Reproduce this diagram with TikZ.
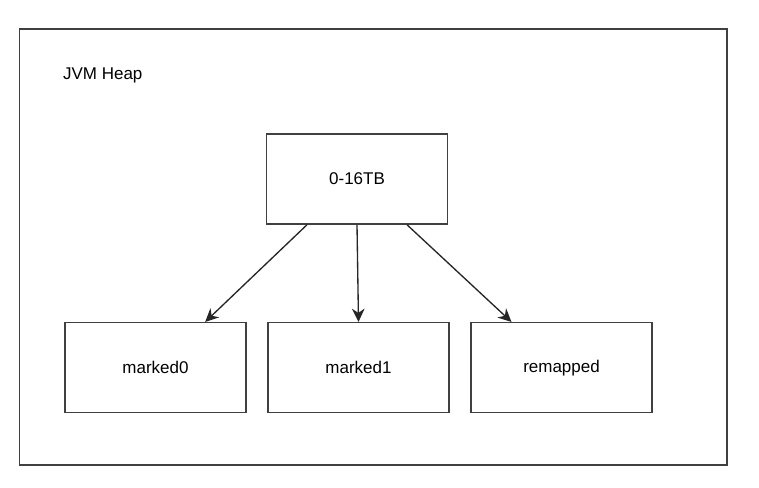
\documentclass[tikz,border=0pt]{standalone}
\usepackage{fontspec}
\setmainfont{Liberation Sans}
\usetikzlibrary{arrows.meta}

\tikzset{
  region/.style={draw=black!75, line width=0.45mm, fill=none, minimum width=54.3mm, minimum height=27mm, inner sep=0pt, font=\fontsize{14.5}{17}\selectfont},
  pointer/.style={draw=black!85, line width=0.4mm, -{Stealth[length=4mm,width=3.8mm,inset=1.3mm]}}
}

\begin{document}
\begin{tikzpicture}[x=0.3mm,y=-0.3mm]
        \useasboundingbox (0,0) rectangle (759,487);
        % heap frame
        \node[draw=black!75, line width=0.45mm, minimum width=212.3mm, minimum height=130.8mm, inner sep=0pt] (heap) at (373.3,247) {};
        \node[anchor=west, font=\fontsize{14.5}{17}\selectfont] (heaplabel) at (59,75) {JVM Heap};
        % address space and views
        \node[region] (space) at (357,179) {0-16TB};
        \node[region] (mk0) at (155.5,367.7) {marked0};
        \node[region] (mk1) at (358.5,367.7) {marked1};
        \node[region] (remap) at (561.5,367.7) {remapped};
        \draw[pointer] ([xshift=-15mm]space.south) -- ([xshift=14.9mm]mk0.north);
        \draw[pointer] (space.south) -- (mk1.north);
        \draw[pointer] ([xshift=15mm]space.south) -- ([xshift=-15mm]remap.north);
    \end{tikzpicture}
\end{document}
